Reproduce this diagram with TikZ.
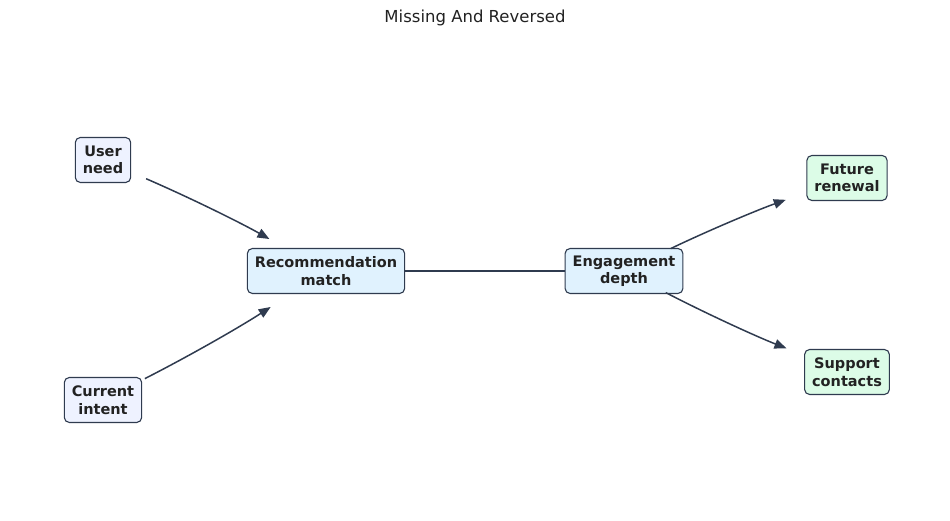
\documentclass[tikz,border=0pt]{standalone}
\usepackage{fontspec}
\setmainfont{DejaVu Sans}
\usetikzlibrary{arrows.meta}
\definecolor{edgec}{HTML}{2F3B4F}
\definecolor{inkc}{HTML}{222222}
\definecolor{srcfill}{HTML}{EEF2FF}
\definecolor{midfill}{HTML}{E0F2FE}
\definecolor{outfill}{HTML}{DCFCE7}
\tikzset{
  nbox/.style    = {draw=edgec, line width=1.1pt, rounded corners=5pt,
                    align=center, inner xsep=7.5pt, inner ysep=0pt,
                    minimum height=45pt, text=inkc,
                    font=\fontsize{14.5}{17.5}\selectfont\bfseries},
  srcbox/.style  = {nbox, fill=srcfill},
  midbox/.style  = {nbox, fill=midfill},
  outbox/.style  = {nbox, fill=outfill},
  wire/.style    = {draw=edgec, line width=1.5pt},
  awire/.style   = {wire, -{Triangle[length=12pt,width=9.5pt]}},
}

\begin{document}
\begin{tikzpicture}[x=1pt,y=1pt]
  \useasboundingbox (0,0) rectangle (950,521);
  \node[text=inkc, font=\fontsize{16.5}{19}\selectfont] (ttl) at (475,503)
    {Missing And Reversed};
  % sources
  \node[srcbox] (un) at (103,361) {User\\need};
  \node[srcbox] (ci) at (103,121) {Current\\intent};
  % middle
  \node[midbox] (rm) at (326,250) {Recommendation\\match};
  \node[midbox] (ed) at (624,250) {Engagement\\depth};
  % outcomes
  \node[outbox] (fr) at (847,343) {Future\\renewal};
  \node[outbox] (sc) at (847,149) {Support\\contacts};
  \draw[awire, shorten <=47pt, shorten >=65pt]
    (un.center) to[bend left=3] (rm.center);
  \draw[awire, shorten <=47pt, shorten >=66pt]
    (ci.center) to[bend right=3] (rm.center);
  \draw[wire] (rm) -- (ed);
  \draw[awire, shorten <=52pt, shorten >=65pt]
    (ed.center) to[bend left=3] (fr.center);
  \draw[awire, shorten <=47pt, shorten >=65pt]
    (ed.center) to[bend right=3] (sc.center);
\end{tikzpicture}
\end{document}
